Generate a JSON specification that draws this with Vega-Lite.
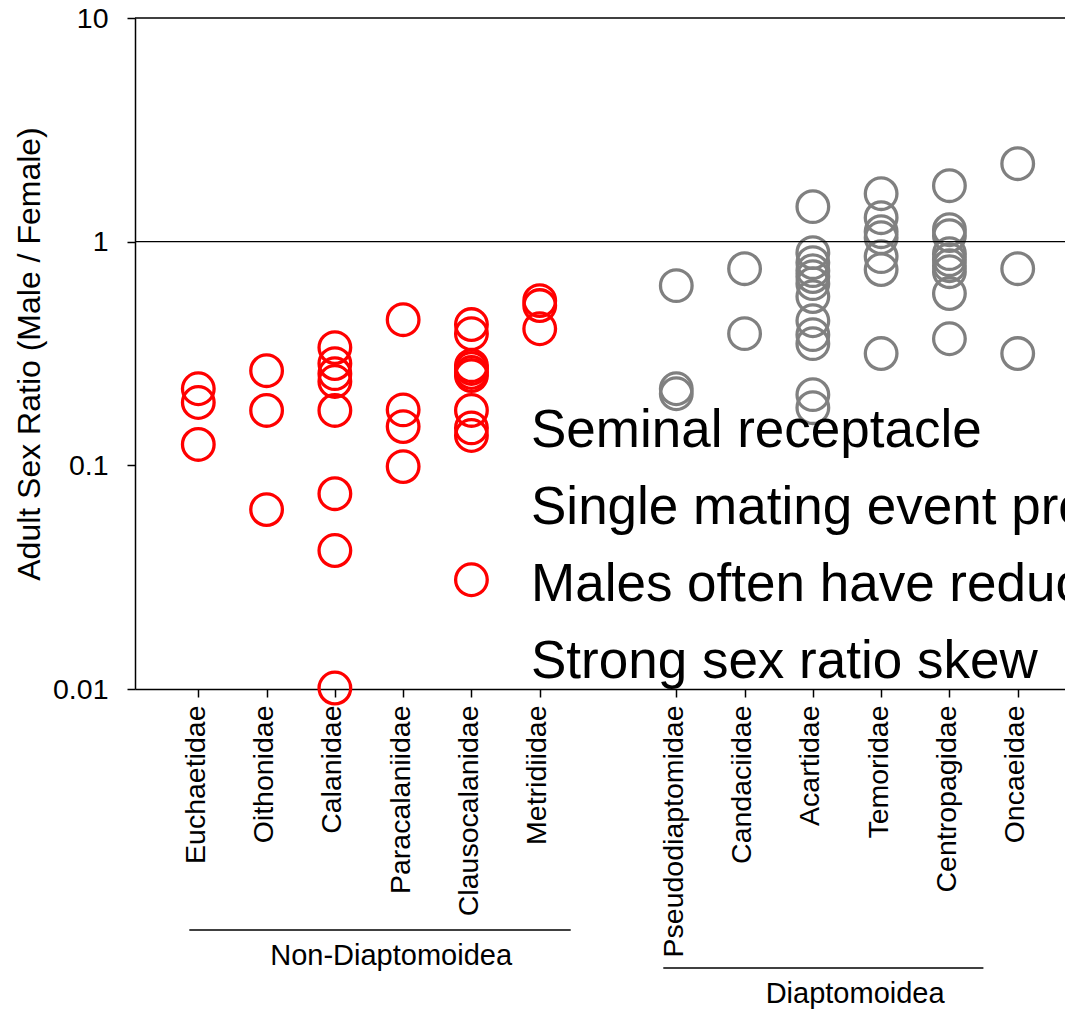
{
  "$schema": "https://vega.github.io/schema/vega-lite/v6.json",
  "autosize": {"type": "none"},
  "padding": {"left": 135, "top": 18, "right": 0, "bottom": 320},
  "width": 930,
  "height": 671,
  "config": {
    "view": {"stroke": null},
    "font": "Liberation Sans",
    "axis": {
      "domainColor": "black",
      "domainWidth": 1.5,
      "tickColor": "black",
      "tickWidth": 1.5,
      "tickSize": 8,
      "labelColor": "black",
      "titleColor": "black",
      "labelFontSize": 28.5,
      "labelLimit": 0,
      "titleFontWeight": "normal",
      "grid": false
    }
  },
  "datasets": {
    "points": [
      {"family": "Euchaetidae", "group": "Non-Diaptomoidea", "ratio": 0.220},
      {"family": "Euchaetidae", "group": "Non-Diaptomoidea", "ratio": 0.191},
      {"family": "Euchaetidae", "group": "Non-Diaptomoidea", "ratio": 0.124},
      {"family": "Oithonidae", "group": "Non-Diaptomoidea", "ratio": 0.265},
      {"family": "Oithonidae", "group": "Non-Diaptomoidea", "ratio": 0.176},
      {"family": "Oithonidae", "group": "Non-Diaptomoidea", "ratio": 0.0634},
      {"family": "Calanidae", "group": "Non-Diaptomoidea", "ratio": 0.336},
      {"family": "Calanidae", "group": "Non-Diaptomoidea", "ratio": 0.285},
      {"family": "Calanidae", "group": "Non-Diaptomoidea", "ratio": 0.257},
      {"family": "Calanidae", "group": "Non-Diaptomoidea", "ratio": 0.237},
      {"family": "Calanidae", "group": "Non-Diaptomoidea", "ratio": 0.176},
      {"family": "Calanidae", "group": "Non-Diaptomoidea", "ratio": 0.0747},
      {"family": "Calanidae", "group": "Non-Diaptomoidea", "ratio": 0.0416},
      {"family": "Calanidae", "group": "Non-Diaptomoidea", "ratio": 0.0101},
      {"family": "Paracalaniidae", "group": "Non-Diaptomoidea", "ratio": 0.448},
      {"family": "Paracalaniidae", "group": "Non-Diaptomoidea", "ratio": 0.177},
      {"family": "Paracalaniidae", "group": "Non-Diaptomoidea", "ratio": 0.149},
      {"family": "Paracalaniidae", "group": "Non-Diaptomoidea", "ratio": 0.0987},
      {"family": "Clausocalanidae", "group": "Non-Diaptomoidea", "ratio": 0.426},
      {"family": "Clausocalanidae", "group": "Non-Diaptomoidea", "ratio": 0.388},
      {"family": "Clausocalanidae", "group": "Non-Diaptomoidea", "ratio": 0.279},
      {"family": "Clausocalanidae", "group": "Non-Diaptomoidea", "ratio": 0.271},
      {"family": "Clausocalanidae", "group": "Non-Diaptomoidea", "ratio": 0.260},
      {"family": "Clausocalanidae", "group": "Non-Diaptomoidea", "ratio": 0.252},
      {"family": "Clausocalanidae", "group": "Non-Diaptomoidea", "ratio": 0.176},
      {"family": "Clausocalanidae", "group": "Non-Diaptomoidea", "ratio": 0.147},
      {"family": "Clausocalanidae", "group": "Non-Diaptomoidea", "ratio": 0.136},
      {"family": "Clausocalanidae", "group": "Non-Diaptomoidea", "ratio": 0.0308},
      {"family": "Metridiidae", "group": "Non-Diaptomoidea", "ratio": 0.545},
      {"family": "Metridiidae", "group": "Non-Diaptomoidea", "ratio": 0.518},
      {"family": "Metridiidae", "group": "Non-Diaptomoidea", "ratio": 0.408},
      {"family": "Pseudodiaptomidae", "group": "Diaptomoidea", "ratio": 0.636},
      {"family": "Pseudodiaptomidae", "group": "Diaptomoidea", "ratio": 0.220},
      {"family": "Pseudodiaptomidae", "group": "Diaptomoidea", "ratio": 0.209},
      {"family": "Candaciidae", "group": "Diaptomoidea", "ratio": 0.757},
      {"family": "Candaciidae", "group": "Diaptomoidea", "ratio": 0.388},
      {"family": "Acartidae", "group": "Diaptomoidea", "ratio": 1.434},
      {"family": "Acartidae", "group": "Diaptomoidea", "ratio": 0.893},
      {"family": "Acartidae", "group": "Diaptomoidea", "ratio": 0.806},
      {"family": "Acartidae", "group": "Diaptomoidea", "ratio": 0.742},
      {"family": "Acartidae", "group": "Diaptomoidea", "ratio": 0.698},
      {"family": "Acartidae", "group": "Diaptomoidea", "ratio": 0.649},
      {"family": "Acartidae", "group": "Diaptomoidea", "ratio": 0.568},
      {"family": "Acartidae", "group": "Diaptomoidea", "ratio": 0.443},
      {"family": "Acartidae", "group": "Diaptomoidea", "ratio": 0.384},
      {"family": "Acartidae", "group": "Diaptomoidea", "ratio": 0.350},
      {"family": "Acartidae", "group": "Diaptomoidea", "ratio": 0.207},
      {"family": "Acartidae", "group": "Diaptomoidea", "ratio": 0.181},
      {"family": "Temoridae", "group": "Diaptomoidea", "ratio": 1.639},
      {"family": "Temoridae", "group": "Diaptomoidea", "ratio": 1.280},
      {"family": "Temoridae", "group": "Diaptomoidea", "ratio": 1.108},
      {"family": "Temoridae", "group": "Diaptomoidea", "ratio": 1.042},
      {"family": "Temoridae", "group": "Diaptomoidea", "ratio": 0.857},
      {"family": "Temoridae", "group": "Diaptomoidea", "ratio": 0.750},
      {"family": "Temoridae", "group": "Diaptomoidea", "ratio": 0.316},
      {"family": "Centropagidae", "group": "Diaptomoidea", "ratio": 1.779},
      {"family": "Centropagidae", "group": "Diaptomoidea", "ratio": 1.131},
      {"family": "Centropagidae", "group": "Diaptomoidea", "ratio": 1.064},
      {"family": "Centropagidae", "group": "Diaptomoidea", "ratio": 0.884},
      {"family": "Centropagidae", "group": "Diaptomoidea", "ratio": 0.831},
      {"family": "Centropagidae", "group": "Diaptomoidea", "ratio": 0.781},
      {"family": "Centropagidae", "group": "Diaptomoidea", "ratio": 0.734},
      {"family": "Centropagidae", "group": "Diaptomoidea", "ratio": 0.586},
      {"family": "Centropagidae", "group": "Diaptomoidea", "ratio": 0.368},
      {"family": "Oncaeidae", "group": "Diaptomoidea", "ratio": 2.232},
      {"family": "Oncaeidae", "group": "Diaptomoidea", "ratio": 0.757},
      {"family": "Oncaeidae", "group": "Diaptomoidea", "ratio": 0.316}
    ],
    "refs": [{"ratio": 1}, {"ratio": 10}],
    "groups": [
      {"group": "Non-Diaptomoidea", "start": "Euchaetidae", "end": "Metridiidae", "mid": "Paracalaniidae"},
      {"group": "Diaptomoidea", "start": "Pseudodiaptomidae", "end": "Centropagidae", "mid": "Temoridae"}
    ],
    "traits": [
      {"trait": "Seminal receptacle"},
      {"trait": "Single mating event produces"},
      {"trait": "Males often have reduced"},
      {"trait": "Strong sex ratio skew"}
    ]
  },
  "layer": [
    {
      "data": {"name": "points"},
      "mark": {"type": "point", "filled": false, "size": 1000, "strokeWidth": 3.3, "opacity": 1},
      "encoding": {
        "x": {
          "field": "family",
          "type": "nominal",
          "scale": {
            "type": "point",
            "domain": ["Euchaetidae", "Oithonidae", "Calanidae", "Paracalaniidae", "Clausocalanidae", "Metridiidae", " ", "Pseudodiaptomidae", "Candaciidae", "Acartidae", "Temoridae", "Centropagidae", "Oncaeidae"],
            "range": [0, 946],
            "padding": 0.927
          },
          "axis": {
            "values": ["Euchaetidae", "Oithonidae", "Calanidae", "Paracalaniidae", "Clausocalanidae", "Metridiidae", "Pseudodiaptomidae", "Candaciidae", "Acartidae", "Temoridae", "Centropagidae", "Oncaeidae"],
            "title": null,
            "labelAngle": -90,
            "labelAlign": "right",
            "labelBaseline": "middle",
            "labelPadding": 8,
            "labelOffset": -3,
            "labelLimit": 0
          }
        },
        "y": {
          "field": "ratio",
          "type": "quantitative",
          "scale": {"type": "log", "domain": [0.01, 10]},
          "axis": {
            "values": [0.01, 0.1, 1, 10],
            "format": "~g",
            "title": "Adult Sex Ratio (Male / Female)",
            "titleFontSize": 32,
            "titlePadding": 6,
            "labelPadding": 19
          }
        },
        "color": {
          "field": "group",
          "type": "nominal",
          "scale": {"domain": ["Non-Diaptomoidea", "Diaptomoidea"], "range": ["#FF0000", "#808080"]},
          "legend": null
        }
      }
    },
    {
      "data": {"name": "refs"},
      "mark": {"type": "rule", "color": "black", "strokeWidth": 1.3},
      "encoding": {
        "y": {
          "field": "ratio",
          "type": "quantitative",
          "scale": {"type": "log", "domain": [0.01, 10]},
          "axis": {
            "values": [0.01, 0.1, 1, 10],
            "format": "~g",
            "title": "Adult Sex Ratio (Male / Female)",
            "titleFontSize": 32,
            "titlePadding": 6,
            "labelPadding": 19
          }
        }
      }
    },
    {
      "data": {"name": "traits"},
      "mark": {"type": "point", "opacity": 0},
      "encoding": {
        "stroke": {
          "field": "trait",
          "type": "nominal",
          "scale": {
            "domain": ["Seminal receptacle", "Single mating event produces", "Males often have reduced", "Strong sex ratio skew"],
            "range": ["transparent", "transparent", "transparent", "transparent"]
          },
          "legend": {
            "orient": "none",
            "legendX": 343,
            "legendY": 386,
            "title": null,
            "padding": 0,
            "labelFontSize": 53,
            "labelColor": "black",
            "labelLimit": 0,
            "labelOffset": 0,
            "symbolSize": 1,
            "symbolStrokeWidth": 0,
            "symbolOpacity": 0,
            "rowPadding": 23
          }
        }
      }
    },
    {
      "data": {"name": "groups"},
      "transform": [{"filter": "datum.group === 'Non-Diaptomoidea'"}],
      "mark": {"type": "rule", "color": "black", "strokeWidth": 1.3, "xOffset": -9, "x2Offset": 31},
      "encoding": {
        "x": {"field": "start", "type": "nominal", "title": null},
        "x2": {"field": "end"},
        "y": {"value": 912}
      }
    },
    {
      "data": {"name": "groups"},
      "transform": [{"filter": "datum.group === 'Diaptomoidea'"}],
      "mark": {"type": "rule", "color": "black", "strokeWidth": 1.3, "xOffset": -13, "x2Offset": 34},
      "encoding": {
        "x": {"field": "start", "type": "nominal", "title": null},
        "x2": {"field": "end"},
        "y": {"value": 950}
      }
    },
    {
      "data": {"name": "groups"},
      "transform": [{"filter": "datum.group === 'Non-Diaptomoidea'"}],
      "mark": {"type": "text", "fontSize": 29, "color": "black", "align": "center", "baseline": "middle", "dx": -12},
      "encoding": {
        "x": {"field": "mid", "type": "nominal", "title": null},
        "y": {"value": 938},
        "text": {"field": "group"}
      }
    },
    {
      "data": {"name": "groups"},
      "transform": [{"filter": "datum.group === 'Diaptomoidea'"}],
      "mark": {"type": "text", "fontSize": 29, "color": "black", "align": "center", "baseline": "middle", "dx": -26},
      "encoding": {
        "x": {"field": "mid", "type": "nominal", "title": null},
        "y": {"value": 976},
        "text": {"field": "group"}
      }
    }
  ]
}
